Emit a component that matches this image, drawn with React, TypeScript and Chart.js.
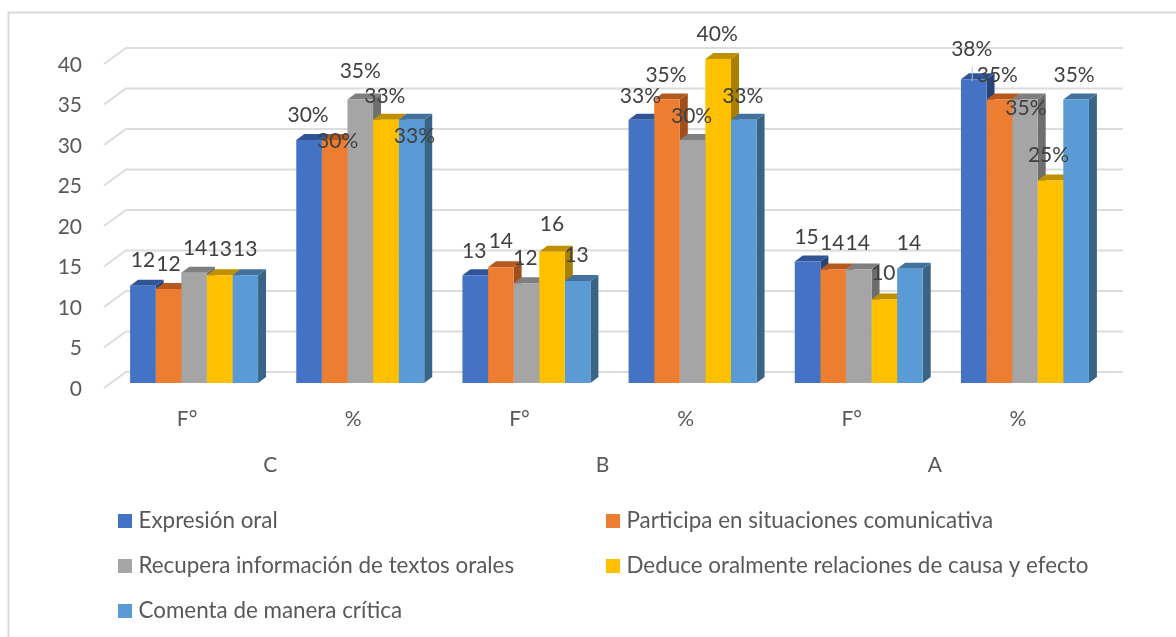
import React, { useEffect, useRef } from "react";
import { Chart, registerables } from "chart.js";

Chart.register(...registerables);

const FONT = "Lato";

const categories = ["F°", "%", "F°", "%", "F°", "%"];
const groups = ["C", "B", "A"];
const yTicks = { min: 0, max: 40, step: 5 };

const seriesNames = [
  "Expresión oral",
  "Participa en situaciones comunicativa",
  "Recupera información de textos orales",
  "Deduce oralmente relaciones de causa y efecto",
  "Comenta de manera crítica",
];

const expresion = [12, 30, 13.3, 32.5, 15, 37.5];
const participa = [11.6, 30, 14.3, 35, 14, 35];
const recupera = [13.6, 35, 12.3, 30, 14, 35];
const deduce = [13.3, 32.5, 16.2, 40, 10.3, 25];
const comenta = [13.3, 32.5, 12.6, 32.5, 14.1, 35];
const seriesValues = [expresion, participa, recupera, deduce, comenta];

const expresionLabels = ["12", "30%", "13", "33%", "15", "38%"];
const participaLabels = ["12", "30%", "14", "35%", "14", "35%"];
const recuperaLabels = ["14", "35%", "12", "30%", "14", "35%"];
const deduceLabels = ["13", "33%", "16", "40%", "10", "25%"];
const comentaLabels = ["13", "33%", "13", "33%", "14", "35%"];
const seriesLabels = [expresionLabels, participaLabels, recuperaLabels, deduceLabels, comentaLabels];

const frontColors = ["#4472C4", "#ED7D31", "#A5A5A5", "#FFC000", "#5B9BD5"];
const topColors = ["#2F5597", "#B5591F", "#7F7F7F", "#BF9000", "#41719C"];
const sideColors = ["#264478", "#A04E1B", "#6E6E6E", "#A87F00", "#3A6486"];

// manual label placement of the source chart: [dx, dy] from the bar's top centre
const labelNudges = [
  [[0, -26], [-1, -25], [-1, -24], [-1, -24], [-1, -24], [-2, -30]],
  [[0, -25], [3, 1], [0, -26], [-1, -24], [-1, -26], [-2, -24]],
  [[1, -25], [0, -28], [-1, -25], [-1, -24], [-1, -26], [1, 9]],
  [[0, -26], [-1, -24], [0, -28], [-1, -25], [-1, -26], [-2, -25]],
  [[0, -26], [3, 16], [-1, -26], [-1, -24], [-1, -26], [-2, -24]],
];

const depth = { barX: 8, barY: 6, backX: 15, backY: 11, frontX: 7, frontY: 5 };

const solid3d = {
  id: "solid3d",
  beforeDraw(chart: any) {
    const { ctx } = chart;
    ctx.save();
    ctx.strokeStyle = "#D9D9D9";
    ctx.lineWidth = 2;
    ctx.strokeRect(8.5, 12.5, 1190, 700);
    ctx.restore();
  },
  beforeDatasetsDraw(chart: any) {
    const { ctx, chartArea } = chart;
    const y = chart.scales.y;
    ctx.save();
    ctx.strokeStyle = "#DCDCDC";
    ctx.lineWidth = 2;
    for (const t of y.ticks) {
      const py = y.getPixelForValue(t.value);
      ctx.beginPath();
      ctx.moveTo(chartArea.left - depth.frontX, py + depth.frontY);
      ctx.lineTo(chartArea.left + depth.backX, py - depth.backY);
      ctx.lineTo(chartArea.right + depth.backX, py - depth.backY);
      ctx.stroke();
    }
    const count = chart.data.labels.length;
    for (let j = 0; j < count; j++) {
      chart.data.datasets.forEach((_: any, i: number) => {
        const b = chart.getDatasetMeta(i).data[j];
        const l = b.x - b.width / 2;
        const r = b.x + b.width / 2;
        ctx.fillStyle = sideColors[i];
        ctx.beginPath();
        ctx.moveTo(r, b.y);
        ctx.lineTo(r + depth.barX, b.y - depth.barY);
        ctx.lineTo(r + depth.barX, b.base - depth.barY);
        ctx.lineTo(r, b.base);
        ctx.closePath();
        ctx.fill();
        ctx.fillStyle = topColors[i];
        ctx.beginPath();
        ctx.moveTo(l, b.y);
        ctx.lineTo(l + depth.barX, b.y - depth.barY);
        ctx.lineTo(r + depth.barX, b.y - depth.barY);
        ctx.lineTo(r, b.y);
        ctx.closePath();
        ctx.fill();
      });
    }
    ctx.restore();
  },
  afterDatasetsDraw(chart: any) {
    const { ctx } = chart;
    ctx.save();
    ctx.font = `21px ${FONT}`;
    ctx.fillStyle = "#404040";
    ctx.textAlign = "center";
    ctx.textBaseline = "middle";
    chart.data.datasets.forEach((_: any, i: number) => {
      chart.getDatasetMeta(i).data.forEach((b: any, j: number) => {
        const [dx, dy] = labelNudges[i][j];
        ctx.fillText(seriesLabels[i][j], b.x + dx, b.y + dy);
      });
    });
    // short leader line of the last group's first label
    const lead = chart.getDatasetMeta(0).data[5];
    ctx.strokeStyle = "#BFBFBF";
    ctx.lineWidth = 1;
    ctx.beginPath();
    ctx.moveTo(lead.x - 1.5, lead.y - 12);
    ctx.lineTo(lead.x - 1.5, lead.y + 2);
    ctx.stroke();
    // legend
    ctx.font = `22.4px ${FONT}`;
    ctx.textAlign = "left";
    const cols = [118, 606];
    const rows = [521, 566, 611];
    seriesNames.forEach((name, i) => {
      const x = cols[i % 2];
      const yy = rows[Math.floor(i / 2)];
      ctx.fillStyle = frontColors[i];
      ctx.fillRect(x, yy - 7, 14, 14);
      ctx.fillStyle = "#595959";
      ctx.fillText(name, x + 20.5, yy);
    });
    ctx.restore();
  },
};

export default function App() {
  const ref = useRef<HTMLCanvasElement>(null);
  useEffect(() => {
    if (!ref.current) return;
    const chart = new Chart(ref.current, {
      type: "bar",
      data: {
        labels: categories,
        datasets: seriesNames.map((label, i) => ({
          label,
          data: seriesValues[i],
          backgroundColor: frontColors[i],
          borderWidth: 0,
          categoryPercentage: 0.77,
          barPercentage: 1,
        })),
      },
      options: {
        responsive: false,
        animation: false,
        layout: { padding: { top: 59, right: 68, bottom: 144, left: 0 } },
        plugins: { legend: { display: false }, tooltip: { enabled: false }, title: { display: false } },
        scales: {
          x: {
            grid: { display: false, drawTicks: false },
            border: { display: false },
            afterFit: (s: any) => { s.height = 60; },
            ticks: {
              padding: 24,
              labelOffset: -7,
              maxRotation: 0,
              autoSkip: false,
              color: "#595959",
              font: { family: FONT, size: 21 },
            },
          },
          x2: {
            type: "category",
            position: "bottom",
            labels: groups,
            grid: { display: false, drawTicks: false },
            border: { display: false },
            afterFit: (s: any) => { s.height = 50; },
            ticks: {
              padding: 10,
              labelOffset: -7,
              maxRotation: 0,
              autoSkip: false,
              color: "#595959",
              font: { family: FONT, size: 21 },
            },
          },
          y: {
            min: yTicks.min,
            max: yTicks.max,
            grid: { display: false, drawTicks: false },
            border: { display: false },
            afterFit: (s: any) => { s.width = 111; },
            ticks: {
              stepSize: yTicks.step,
              padding: 29,
              labelOffset: 6,
              color: "#595959",
              font: { family: FONT, size: 21 },
            },
          },
        },
      } as any,
      plugins: [solid3d],
    });
    return () => chart.destroy();
  }, []);
  return (
    <canvas
      ref={ref}
      width={1176}
      height={637}
      style={{ position: "absolute", left: 0, top: 0, width: 1176, height: 637, display: "block" }}
    />
  );
}
